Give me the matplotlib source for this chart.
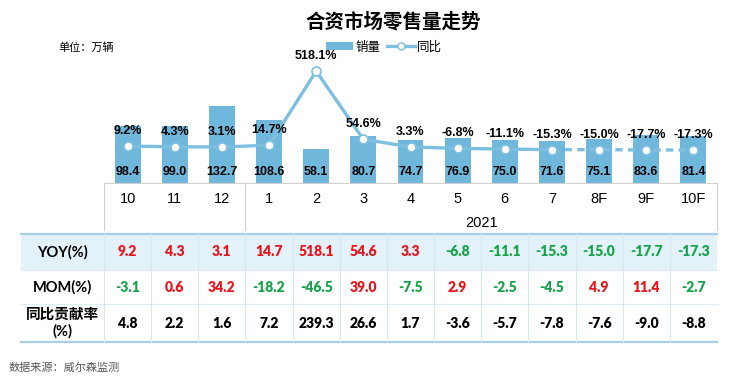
import matplotlib
matplotlib.use("Agg")
import matplotlib.pyplot as plt
from matplotlib.patches import Rectangle, Patch
from matplotlib.lines import Line2D

# 数据
months = ["10", "11", "12", "1", "2", "3", "4", "5", "6", "7", "8F", "9F", "10F"]
sales = [98.4, 99.0, 132.7, 108.6, 58.1, 80.7, 74.7, 76.9, 75.0, 71.6, 75.1, 83.6, 81.4]
yoy = [9.2, 4.3, 3.1, 14.7, 518.1, 54.6, 3.3, -6.8, -11.1, -15.3, -15.0, -17.7, -17.3]
mom = [-3.1, 0.6, 34.2, -18.2, -46.5, 39.0, -7.5, 2.9, -2.5, -4.5, 4.9, 11.4, -2.7]
contrib = [4.8, 2.2, 1.6, 7.2, 239.3, 26.6, 1.7, -3.6, -5.7, -7.8, -7.6, -9.0, -8.8]
row_names = ["YOY(%)", "MOM(%)", "同比贡献率\n(%)"]
year_label = "2021"
n_prev = 3      # 10,11,12 属于上一年
n_actual = 10   # 8F 之后是预测(虚线)

CJK = ["Noto Sans CJK SC", "DejaVu Sans"]
NARROW = ["Liberation Sans Narrow", "Liberation Sans"]
TBL = ["Lato", "DejaVu Sans"]

bar_c = "#6fb7db"
line_c = "#7dbfe0"
red = "#e8151c"
green = "#17a34a"

W, H = 745, 380
fig = plt.figure(figsize=(W / 100, H / 100), dpi=100)


def fx(x):
    return x / W


def fy(y):
    return 1 - y / H


# 背景层(像素坐标)
ov = fig.add_axes([0, 0, 1, 1])
ov.set_xlim(0, W)
ov.set_ylim(H, 0)
ov.axis("off")

x0, x1 = 104, 717
n = len(months)
cw = (x1 - x0) / n


def cx(i):
    return x0 + cw * (i + 0.5)


# 标题等文字
fig.text(fx(393), fy(22), "合资市场零售量走势", family=CJK, fontsize=14,
         fontweight="bold", ha="center", va="center")
fig.text(fx(58), fy(48), "单位：万辆", family=CJK, fontsize=8, ha="left", va="center")
fig.text(fx(9), fy(368), "数据来源：威尔森监测", family=CJK, fontsize=8,
         color="#555555", ha="left", va="center")

# 类别框
gray = "#d0d0d0"
ov.plot([x0, x1], [183, 183], color=gray, lw=0.8)
for xv in [x0, x0 + cw * n_prev, x1]:
    ov.plot([xv, xv], [183, 230], color=gray, lw=0.8)
for i, m in enumerate(months):
    ov.text(cx(i), 199, m, family=["Liberation Sans", "DejaVu Sans"], fontsize=10.5,
            ha="center", va="center")
ov.text((cx(n_prev) + cx(n - 1)) / 2, 223, year_label,
        family=["Liberation Sans", "DejaVu Sans"], fontsize=10.5, ha="center", va="center")

# 表格
tl = 21
rows_y = [234, 270, 304, 342]
ov.add_patch(Rectangle((tl, rows_y[0]), x1 - tl, rows_y[1] - rows_y[0],
                       facecolor="#e3f1f9", edgecolor="none"))
for yv in rows_y[1:3]:
    ov.plot([tl, x1], [yv, yv], color="#ddecf5", lw=0.8)
ov.plot([tl, x1], [rows_y[0], rows_y[0]], color="#a8cfe3", lw=1.6)
ov.plot([tl, x1], [rows_y[3], rows_y[3]], color="#a8cfe3", lw=1.6)
for i in range(n):
    xv = x0 + cw * i
    ov.plot([xv, xv], [rows_y[0], rows_y[3]], color="#d6e8f2", lw=0.8)

for r, name in enumerate(row_names):
    yc = (rows_y[r] + rows_y[r + 1]) / 2
    ov.text((tl + x0) / 2, yc, name, family=["Lato", "Noto Sans CJK SC"], fontsize=10.5,
            fontweight="bold", ha="center", va="center", linespacing=1.15)


def col(v):
    return red if v > 0 else green


for i in range(n):
    for r, vals in enumerate([yoy, mom, contrib]):
        yc = (rows_y[r] + rows_y[r + 1]) / 2
        v = vals[i]
        c = "black" if r == 2 else col(v)
        ov.text(cx(i), yc, f"{v:.1f}", family=TBL, fontsize=10, fontweight="heavy",
                color=c, ha="center", va="center")

# 柱状图
ax = fig.add_axes([fx(x0), fy(183), (x1 - x0) / W, (183 - 60) / H])
ax.patch.set_alpha(0)
ax.set_xlim(-0.5, n - 0.5)
ax.set_ylim(0, 123 / 0.58)
xs = list(range(n))
ax.bar(xs, sales, width=0.55, color=bar_c, zorder=2)
for i, v in enumerate(sales):
    ax.text(i, 11 / 0.58, f"{v:.1f}", family=NARROW, fontsize=9, fontweight="bold",
            ha="center", va="center", zorder=5)
ax.axis("off")

# 同比折线
ax2 = ax.twinx()
ax2.set_ylim(-241.5, 593)
ax2.axis("off")
ax2.plot(xs[:n_actual], yoy[:n_actual], color=line_c, lw=2.4, zorder=3)
ax2.plot(xs[n_actual - 1:], yoy[n_actual - 1:], color=line_c, lw=2.4, ls=(0, (2.2, 1.6)), zorder=3)
ax2.plot(xs, yoy, ls="none", marker="o", ms=6.5, mfc="white", mec=line_c, mew=1.2, zorder=4)
for i, v in enumerate(yoy):
    ax2.annotate(f"{v:.1f}%", (i, v), xytext=(0, 15), textcoords="offset pixels",
                 family=NARROW, fontsize=9, fontweight="bold", ha="center", va="center")

# 图例
handles = [Patch(facecolor=bar_c), Line2D([], [], color=line_c, lw=2.4, marker="o",
                                          ms=5, mfc="white", mec=line_c)]
fig.legend(handles, ["销量", "同比"], loc="center", bbox_to_anchor=(fx(384), fy(47)),
           ncol=2, frameon=False, prop={"family": CJK, "size": 9},
           handlelength=2.2, handleheight=0.6, handletextpad=0.2, columnspacing=0.5)

fig.savefig("out.png", dpi=100)
